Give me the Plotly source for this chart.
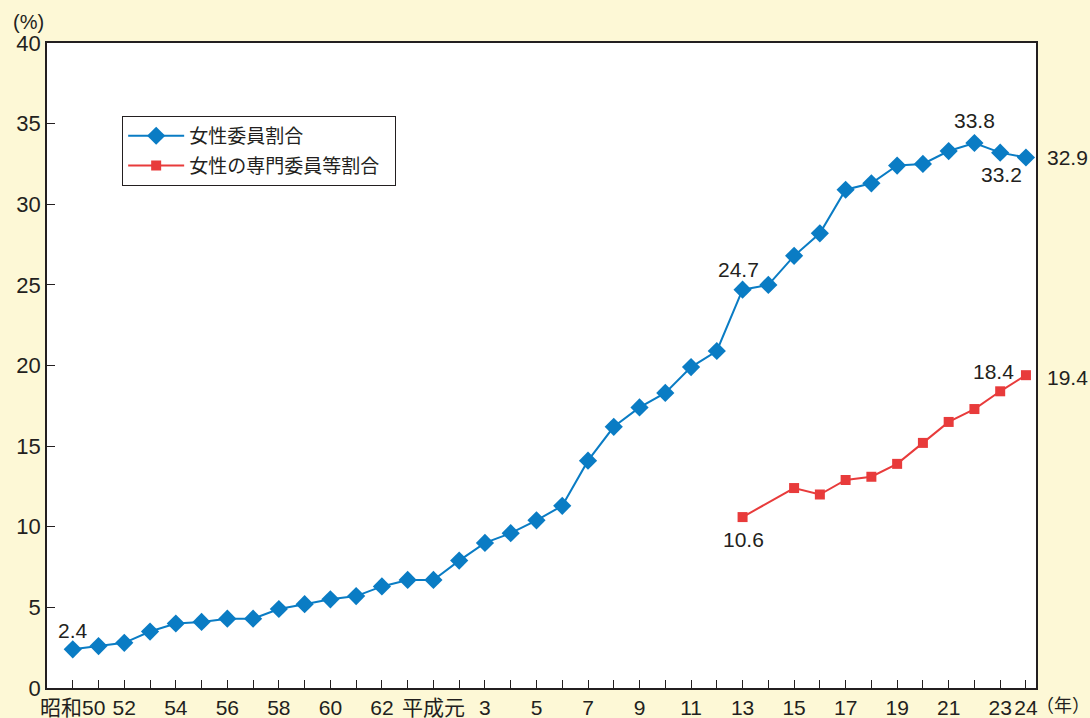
import plotly.graph_objects as go

# Years (Western calendar) from 昭和50 (1975) to 平成24 (2012)
years = list(range(1975, 2013))

# 女性委員割合 (%)
women_members = [2.4, 2.6, 2.8, 3.5, 4.0, 4.1, 4.3, 4.3, 4.9, 5.2,
                 5.5, 5.7, 6.3, 6.7, 6.7, 7.9, 9.0, 9.6, 10.4, 11.3,
                 14.1, 16.2, 17.4, 18.3, 19.9, 20.9, 24.7, 25.0, 26.8, 28.2,
                 30.9, 31.3, 32.4, 32.5, 33.3, 33.8, 33.2, 32.9]

# 女性の専門委員等割合 (%) — from 平成13; no value for 平成14
spec_years = [2001, 2003, 2004, 2005, 2006, 2007, 2008, 2009, 2010, 2011, 2012]
women_specialists = [10.6, 12.4, 12.0, 12.9, 13.1, 13.9, 15.2, 16.5, 17.3, 18.4, 19.4]

# Tick labels (every year gets a tick; alternating years are labelled)
tick_labels = {1975: "昭和50", 1977: "52", 1979: "54", 1981: "56", 1983: "58",
               1985: "60", 1987: "62", 1989: "平成元", 1991: "3", 1993: "5",
               1995: "7", 1997: "9", 1999: "11", 2001: "13", 2003: "15",
               2005: "17", 2007: "19", 2009: "21", 2011: "23", 2012: "24"}

# Value labels: (year, value, x-shift, y-shift)
value_labels = [
    (1975, 2.4, 0, 19),
    (2001, 24.7, -4, 20),
    (2010, 33.8, 0, 22),
    (2011, 33.2, 1, -22),
    (2012, 32.9, 42, 0),
    (2001, 10.6, 1, -22),
    (2011, 18.4, -7, 20),
    (2012, 19.4, 42, -2),
]

BLUE = "#0a7cc4"
RED = "#e83b3b"
INK = "#231f20"
FONT = "Liberation Sans, Noto Sans CJK JP, sans-serif"
PAD = "\u00a0\u00a0"

fig = go.Figure()
fig.add_trace(go.Scatter(
    x=years, y=women_members, name="女性委員割合",
    mode="lines+markers", legendgroup="a",
    line=dict(color=BLUE, width=2),
    marker=dict(symbol="diamond", size=14, color=BLUE),
))
fig.add_trace(go.Scatter(
    x=spec_years, y=women_specialists, name="女性の専門委員等割合" + PAD,
    mode="lines+markers", legendgroup="b",
    line=dict(color=RED, width=2),
    marker=dict(symbol="square", size=10, color=RED),
))

for yr, val, dx, dy in value_labels:
    fig.add_annotation(x=yr, y=val, text=f"{val}", showarrow=False,
                       xshift=dx, yshift=dy,
                       font=dict(size=21, color=INK, family=FONT))

fig.add_annotation(xref="paper", yref="paper", x=0, y=1.0, xshift=-19, yshift=21,
                   text="(%)", showarrow=False, xanchor="center", yanchor="middle",
                   font=dict(size=20, color=INK, family=FONT))
fig.add_annotation(xref="paper", yref="paper", x=1.0, y=0, xshift=27, yshift=-18,
                   text="（年）", showarrow=False, xanchor="center", yanchor="middle",
                   font=dict(size=18, color=INK, family=FONT))

fig.update_layout(
    width=1090, height=718,
    margin=dict(l=47, r=54, t=43, b=30),
    paper_bgcolor="#fdf8d6",
    plot_bgcolor="white",
    font=dict(family=FONT, color=INK),
    showlegend=True,
    legend=dict(
        x=0.076, y=0.887, xanchor="left", yanchor="top",
        bgcolor="white", bordercolor=INK, borderwidth=1,
        font=dict(size=19, color=INK, family=FONT),
        itemwidth=56, tracegroupgap=2,
    ),
)

fig.update_xaxes(
    range=[1974.0, 2012.39], automargin=False,
    tickvals=years,
    ticktext=[tick_labels.get(y, "") for y in years],
    ticks="inside", ticklen=8, tickcolor=INK, tickwidth=1,
    showline=True, linecolor=INK, linewidth=1.5, mirror=True,
    showgrid=False, zeroline=False,
    tickfont=dict(size=21, color=INK, family=FONT),
    tickangle=0,
)
fig.update_yaxes(
    range=[0, 40], dtick=5, automargin=False,
    ticks="inside", ticklen=8, tickcolor=INK, tickwidth=1,
    showline=True, linecolor=INK, linewidth=1.5, mirror=True,
    showgrid=False, zeroline=False,
    tickfont=dict(size=22, color=INK, family=FONT),
)

fig.write_html("out.html")
